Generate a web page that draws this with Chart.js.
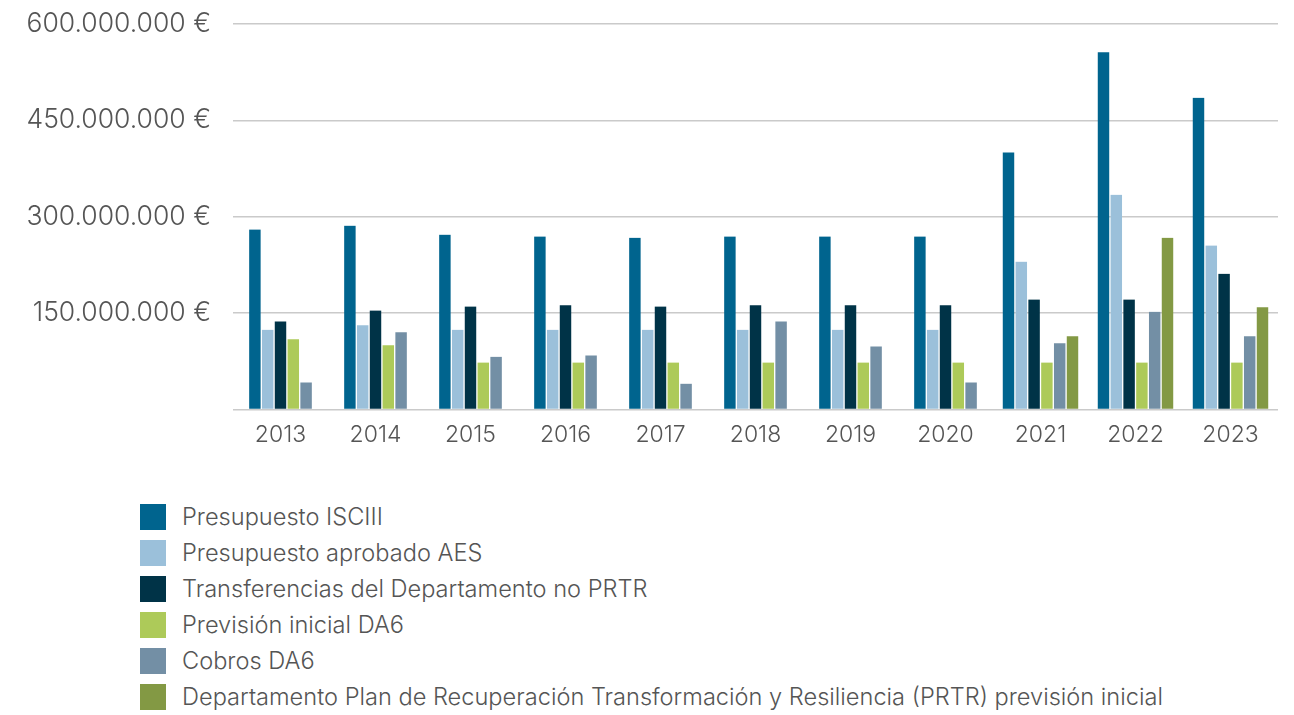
<!DOCTYPE html>
<html>
<head>
<meta charset="utf-8">
<script src="https://cdn.jsdelivr.net/npm/chart.js@4.4.1/dist/chart.umd.min.js"></script>
<style>
    body { margin: 0; background: #fff; font-family: Inter, sans-serif; overflow: hidden; }
    #wrap { position: relative; width: 1294px; height: 715px; overflow: hidden; }
    #box { position: absolute; left: 0; top: -14px; width: 1294px; height: 467px; }
    #legend { position: absolute; left: 140px; top: 504px; margin: 0; padding: 0; list-style: none; }
    #legend li { height: 36px; display: flex; align-items: flex-start; font-size: 23.6px; font-weight: 300; color: #555; }
    #legend span.sw { width: 26px; height: 26px; margin-right: 16px; flex: none; }
    #legend span.tx { line-height: 26px; white-space: nowrap; }
</style>
</head>
<body>
<div id="wrap">
    <div id="box"><canvas id="myChart"></canvas></div>
    <ul id="legend"></ul>
</div>
<script>
// values in millions of euros
const years = ['2013', '2014', '2015', '2016', '2017', '2018', '2019', '2020', '2021', '2022', '2023'];
const presupuestoIsciii = [280, 286, 272, 269, 267, 269, 269, 269, 400, 556, 485];
const presupuestoAes = [124, 131, 124, 124, 124, 124, 124, 124, 230, 334, 255];
const transferencias = [137, 154, 160, 162, 160, 162, 162, 162, 171, 171, 211];
const previsionDa6 = [109, 100, 73, 73, 73, 73, 73, 73, 73, 73, 73];
const cobrosDa6 = [42, 120, 82, 84, 40, 137, 98, 42, 103, 152, 114];
const prtr = [null, null, null, null, null, null, null, null, 114, 267, 159];
const yTicks = [0, 150, 300, 450, 600];

const textColor = '#555';

function euros(v) {
    if (v === 0) return '';
    return String(v * 1000000).replace(/\B(?=(\d{3})+(?!\d))/g, '.') + ' €';
}

function bars(label, data, color) {
    return {
        label: label,
        data: data,
        backgroundColor: color,
        borderColor: 'rgba(0,0,0,0)',
        borderWidth: { left: 1, right: 1, top: 0, bottom: 0 },
        borderSkipped: false
    };
}

const ctx = document.getElementById('myChart');

const chart = new Chart(ctx, {
    type: 'bar',
    data: {
        labels: years,
        datasets: [
            bars('Presupuesto ISCIII', presupuestoIsciii, '#00648E'),
            bars('Presupuesto aprobado AES', presupuestoAes, '#9BC0DA'),
            bars('Transferencias del Departamento no PRTR', transferencias, '#003347'),
            bars('Previsión inicial DA6', previsionDa6, '#ADCA59'),
            bars('Cobros DA6', cobrosDa6, '#738FA5'),
            bars('Departamento Plan de Recuperación Transformación y Resiliencia (PRTR) previsión inicial', prtr, '#839944')
        ]
    },
    options: {
        responsive: true,
        maintainAspectRatio: false,
        animation: false,
        skipNull: true,
        barThickness: 12.8,
        layout: { padding: { top: 8, right: 16, bottom: 0, left: 0 } },
        plugins: {
            legend: { display: false },
            tooltip: { enabled: false }
        },
        scales: {
            x: {
                grid: { display: false },
                border: { display: false },
                ticks: {
                    color: textColor,
                    padding: 4,
                    font: { family: 'Inter', size: 23, weight: 300 }
                }
            },
            y: {
                min: 0,
                max: 600,
                afterBuildTicks: function (scale) {
                    scale.ticks = yTicks.map(function (v) { return { value: v }; });
                },
                afterFit: function (scale) {
                    scale.width = 233;
                },
                grid: { color: '#cacaca', lineWidth: 1.5, drawTicks: false },
                border: { display: false },
                ticks: {
                    color: textColor,
                    padding: 22,
                    font: { family: 'Inter', size: 26.5, weight: 300 },
                    callback: function (v) { return euros(v); }
                }
            }
        }
    }
});

// legend, one row per series
const legend = document.getElementById('legend');
chart.data.datasets.forEach(function (ds) {
    const li = document.createElement('li');
    const sw = document.createElement('span');
    sw.className = 'sw';
    sw.style.background = ds.backgroundColor;
    const tx = document.createElement('span');
    tx.className = 'tx';
    tx.textContent = ds.label;
    li.appendChild(sw);
    li.appendChild(tx);
    legend.appendChild(li);
});
</script>
</body>
</html>
